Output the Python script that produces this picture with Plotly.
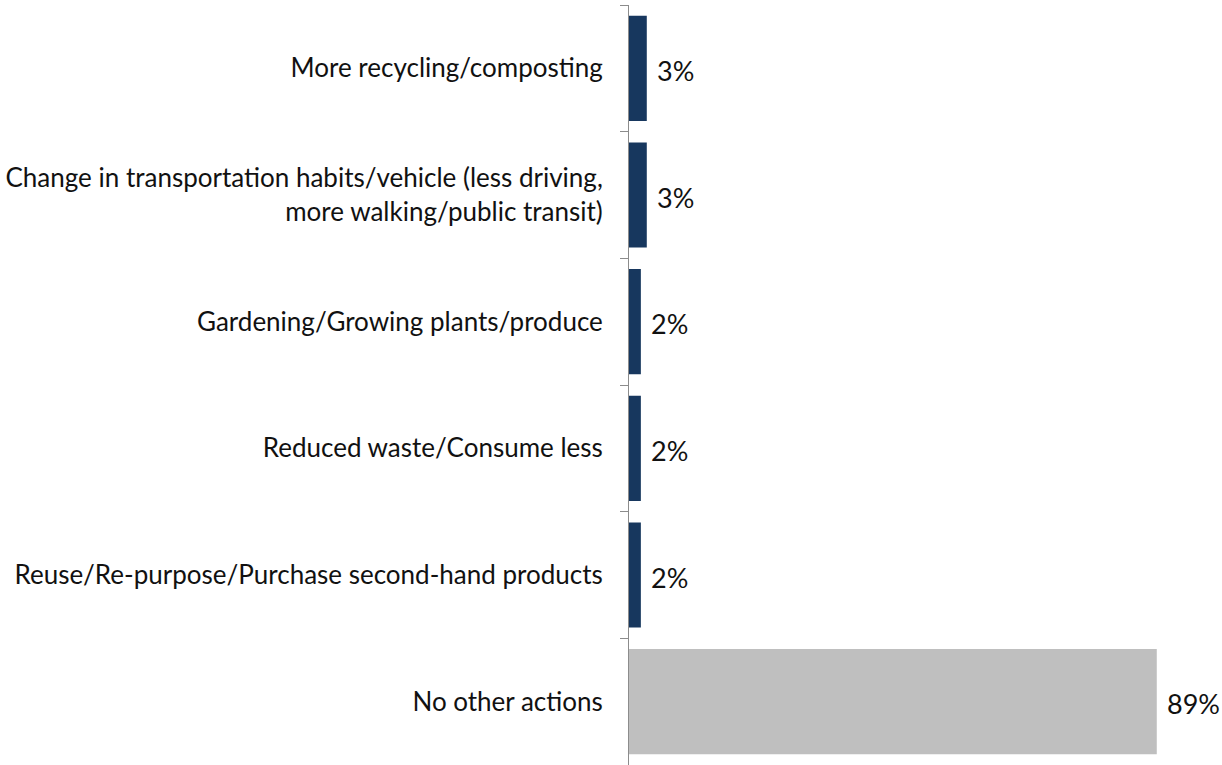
import plotly.graph_objects as go

categories = [
    "More recycling/composting",
    "Change in transportation habits/vehicle (less driving,<br>more walking/public transit)",
    "Gardening/Growing plants/produce",
    "Reduced waste/Consume less",
    "Reuse/Re-purpose/Purchase second-hand products",
    "No other actions",
]
values = [3, 3, 2, 2, 2, 89]
value_labels = ["3%", "3%", "2%", "2%", "2%", "89%"]
bar_colors = ["#17375E", "#17375E", "#17375E", "#17375E", "#17375E", "#BFBFBF"]

FONT = "Lato"
TEXT_COLOR = "#111111"

fig = go.Figure(
    go.Bar(
        x=values,
        y=categories,
        orientation="h",
        marker=dict(color=bar_colors, line=dict(width=0)),
        width=0.83,
        hoverinfo="skip",
    )
)

# percentage labels just past the end of each bar
for cat, val, lab in zip(categories, values, value_labels):
    fig.add_annotation(
        x=val, y=cat, text=lab, showarrow=False,
        xanchor="left", yanchor="middle", xshift=8, yshift=-2,
        font=dict(family=FONT, size=27, color=TEXT_COLOR),
    )

fig.update_layout(
    width=1222, height=765,
    margin=dict(l=629, r=0, t=5, b=0),
    paper_bgcolor="white", plot_bgcolor="white",
    showlegend=False,
    font=dict(family=FONT, size=26, color=TEXT_COLOR),
)
fig.update_xaxes(range=[0, 100], visible=False)
fig.update_yaxes(
    autorange="reversed",
    showline=True, linecolor="#8c8c8c", linewidth=1,
    ticks="outside", tickson="boundaries", ticklen=8, tickcolor="#8c8c8c",
    ticklabelstandoff=20,
    showgrid=False, zeroline=False,
    tickfont=dict(family=FONT, size=26, color=TEXT_COLOR),
)

fig.write_html("out.html")
